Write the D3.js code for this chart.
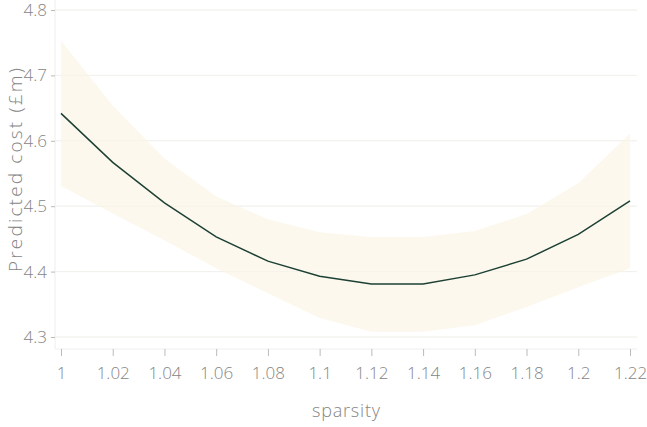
<!DOCTYPE html>
<html>
<head>
<meta charset="utf-8">
<script src="https://cdn.jsdelivr.net/npm/d3@7"></script>
<style>
  body { margin: 0; background: #fff; }
  text { font-family: "Open Sans", "Noto Sans", sans-serif; font-weight: 300; fill: #858585; }
</style>
</head>
<body>
<div id="chart"></div>
<script>
// sparsity vs predicted cost, with uncertainty band
const sparsity = [1, 1.02, 1.04, 1.06, 1.08, 1.1, 1.12, 1.14, 1.16, 1.18, 1.2, 1.22];
const predicted = [4.642, 4.567, 4.505, 4.453, 4.416, 4.393, 4.381, 4.381, 4.395, 4.419, 4.457, 4.508];
const upper = [4.753, 4.654, 4.573, 4.515, 4.480, 4.460, 4.453, 4.453, 4.462, 4.488, 4.535, 4.611];
const lower = [4.531, 4.489, 4.448, 4.405, 4.367, 4.329, 4.308, 4.308, 4.318, 4.346, 4.376, 4.405];
const yTicks = [4.3, 4.4, 4.5, 4.6, 4.7, 4.8];

const data = sparsity.map((s, i) => ({ s, m: predicted[i], hi: upper[i], lo: lower[i] }));

const width = 647, height = 427;

const x = d3.scaleLinear()
    .domain([1, 1.22])
    .range([61, 630]);

const y = d3.scaleLinear()
    .domain([4.3, 4.8])
    .range([337, 10]);

const svg = d3.select("#chart")
    .append("svg")
    .attr("width", width)
    .attr("height", height);

// gridlines
svg.append("g")
    .selectAll("line")
    .data(yTicks)
    .join("line")
    .attr("x1", 55).attr("x2", 637)
    .attr("y1", d => y(d)).attr("y2", d => y(d))
    .attr("stroke", "#f3f3f3");

// band
const band = d3.area()
    .x(d => x(d.s))
    .y0(d => y(d.lo))
    .y1(d => y(d.hi));

svg.append("path")
    .datum(data)
    .attr("fill", "#fcf8ee")
    .attr("d", band);

// faint gridlines showing through the band
svg.append("g")
    .selectAll("line")
    .data(yTicks)
    .join("line")
    .attr("x1", 55).attr("x2", 637)
    .attr("y1", d => y(d)).attr("y2", d => y(d))
    .attr("stroke", "#f2efe6")
    .attr("stroke-opacity", 0.5);

// mean line
svg.append("path")
    .datum(data)
    .attr("fill", "none")
    .attr("stroke", "#1d4034")
    .attr("stroke-width", 1.5)
    .attr("d", d3.line().x(d => x(d.s)).y(d => y(d.m)));

// y axis
const yAxis = svg.append("g")
    .attr("transform", "translate(55,0)")
    .call(d3.axisLeft(y).tickValues(yTicks).tickFormat(d3.format(".1f")).tickSize(4).tickPadding(4));
yAxis.select(".domain").attr("stroke", "#eeeeee").attr("d", "M0,0V349");
yAxis.selectAll(".tick line").attr("stroke", "#bbbbbb");
yAxis.selectAll(".tick text").attr("fill", null).style("font-size", "17px");

// x axis
const xAxis = svg.append("g")
    .attr("transform", "translate(0,349)")
    .call(d3.axisBottom(x).tickValues(sparsity).tickFormat(d => String(+d.toFixed(2))).tickSize(7).tickPadding(11));
xAxis.select(".domain").attr("stroke", "#eeeeee").attr("d", "M55,0H637");
xAxis.selectAll(".tick line").attr("stroke", "#bbbbbb");
xAxis.selectAll(".tick text").attr("fill", null).style("font-size", "17px");

// axis titles
svg.append("text")
    .attr("x", 346).attr("y", 417)
    .attr("text-anchor", "middle")
    .style("font-size", "18px")
    .attr("textLength", 68)
    .attr("lengthAdjust", "spacing")
    .text("sparsity");

svg.append("text")
    .attr("transform", "translate(22,170) rotate(-90)")
    .attr("text-anchor", "middle")
    .style("font-size", "19px")
    .attr("textLength", 204)
    .attr("lengthAdjust", "spacing")
    .text("Predicted cost (£m)");
</script>
</body>
</html>
